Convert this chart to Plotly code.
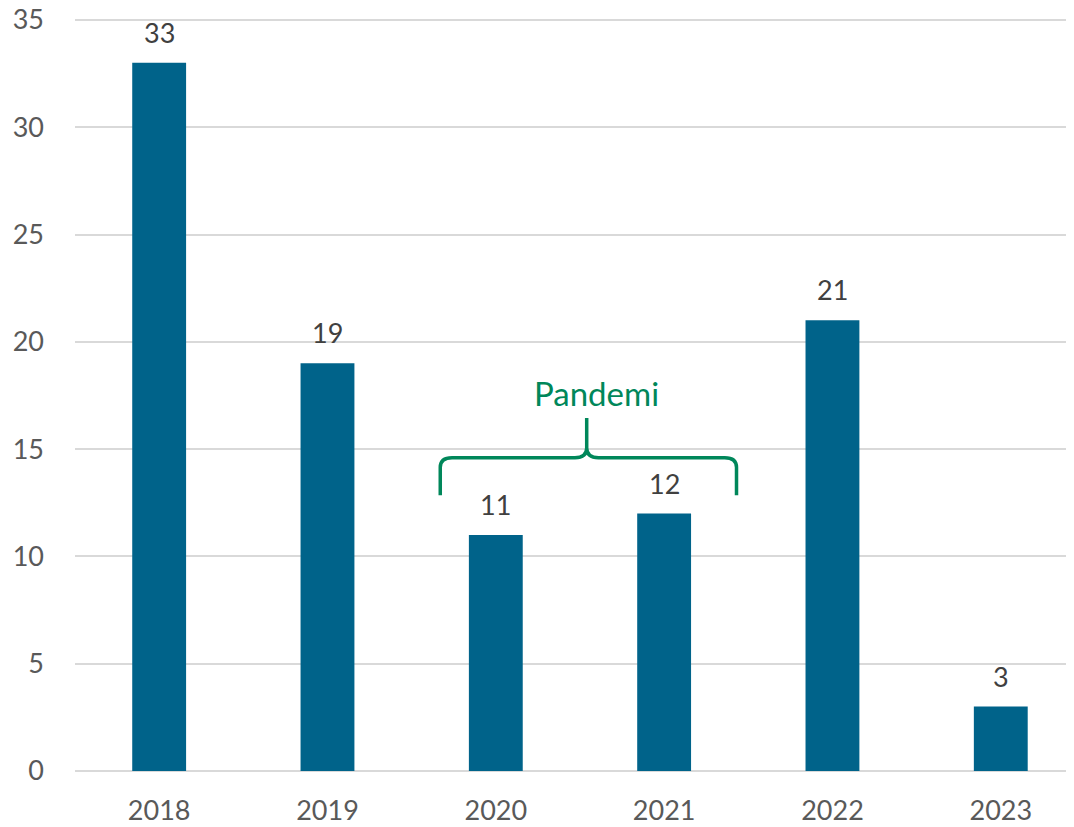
import plotly.graph_objects as go

years = ["2018", "2019", "2020", "2021", "2022", "2023"]
values = [33, 19, 11, 12, 21, 3]
y_ticks = [0, 5, 10, 15, 20, 25, 30, 35]

bar_color = "#00638A"
green = "#00875A"
FONT = "Lato"

fig = go.Figure()
fig.add_trace(go.Bar(
    x=list(range(len(years))), y=values,
    marker=dict(color=bar_color, line=dict(width=0)),
    width=0.32,
))

for i, v in enumerate(values):
    fig.add_annotation(x=i, y=v, xref="x", yref="y", text=str(v),
                       showarrow=False, yanchor="bottom", yshift=12,
                       font=dict(size=27, color="#404040", family=FONT))

# brace (in x axis units + data y)
x_l, x_m, x_r = 1.67, 2.54, 3.43
y_b, y_h, y_t = 12.85, 14.6, 16.45
r = 0.07
path = (f"M {x_l},{y_b} L {x_l},{y_h-0.45} Q {x_l},{y_h} {x_l+r},{y_h} "
        f"L {x_m-r},{y_h} Q {x_m},{y_h} {x_m},{y_h+0.45} L {x_m},{y_t} "
        f"M {x_m},{y_h+0.45} Q {x_m},{y_h} {x_m+r},{y_h} "
        f"L {x_r-r},{y_h} Q {x_r},{y_h} {x_r},{y_h-0.45} L {x_r},{y_b}")
fig.add_shape(type="path", path=path, xref="x", yref="y",
              line=dict(color=green, width=3.5))
fig.add_annotation(x=2.6, y=17.6, xref="x", yref="y", text="Pandemi",
                   showarrow=False, font=dict(size=33, color=green, family=FONT))

fig.update_layout(
    width=1074, height=827,
    margin=dict(l=67, r=8, t=1, b=64),
    plot_bgcolor="white", paper_bgcolor="white",
    showlegend=False,
    font=dict(family=FONT, color="#595959"),
    xaxis=dict(range=[-0.5, 5.435], tickmode="array",
               tickvals=list(range(len(years))), ticktext=years,
               showgrid=False, zeroline=False, showline=False,
               tickfont=dict(size=27, color="#595959"), ticks="",
               ticklabelstandoff=21, automargin=False),
    yaxis=dict(range=[0, 35.51], tickvals=y_ticks,
               showgrid=True, gridcolor="#d9d9d9", gridwidth=1.5,
               zeroline=True, zerolinecolor="#d9d9d9", zerolinewidth=1.5,
               tickfont=dict(size=27, color="#595959"), ticks="",
               ticklabelstandoff=30, ticklabeloverflow="allow",
               automargin=False),
)

fig.write_html("out.html")
